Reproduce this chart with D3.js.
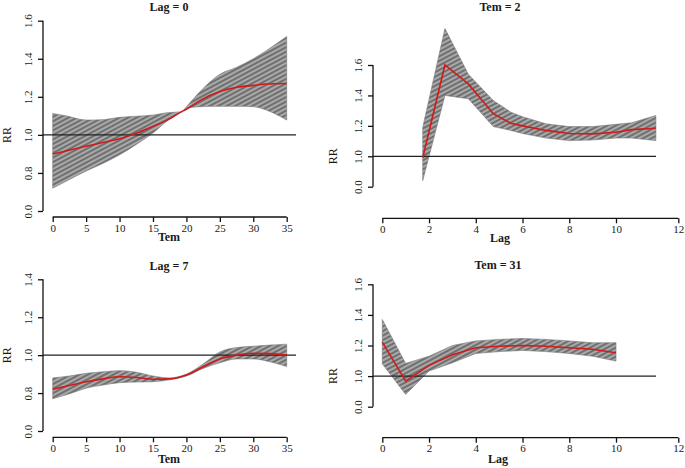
<!DOCTYPE html>
<html><head><meta charset="utf-8">
<script src="https://cdn.jsdelivr.net/npm/d3@7"></script>
<style>body{margin:0;background:#fff}svg{display:block}svg text{font-family:"Liberation Serif","Times New Roman","DejaVu Serif",serif !important;fill:#1a1a1a}</style>
</head><body><svg id="c" width="685" height="468"></svg>
<script>
// ---- Data ----
// Panel 1: Lag = 0 (x = Tem)
const p1Tem   = [0, 2, 5, 7.5, 10, 12.5, 15, 17, 19.3, 20, 22, 25, 27.5, 30, 32, 35];
const p1Fit   = [0.90, 0.915, 0.94, 0.96, 0.98, 1.008, 1.045, 1.075, 1.122, 1.135, 1.18, 1.228, 1.25, 1.26, 1.267, 1.27];
const p1Upper = [1.113, 1.10, 1.078, 1.08, 1.092, 1.098, 1.104, 1.116, 1.122, 1.148, 1.226, 1.318, 1.355, 1.40, 1.444, 1.517];
const p1Lower = [0.72, 0.756, 0.81, 0.85, 0.895, 0.95, 1.01, 1.07, 1.122, 1.139, 1.148, 1.15, 1.15, 1.148, 1.13, 1.078];
// Panel 2: Tem = 2 (x = Lag)
const p2Lag   = [1.73, 2.68, 3.68, 4.75, 5.5, 6, 7, 8, 9, 10, 10.5, 11.28];
const p2Fit   = [0.99, 1.60, 1.476, 1.28, 1.217, 1.2, 1.17, 1.15, 1.147, 1.158, 1.175, 1.184];
const p2Upper = [1.19, 1.84, 1.54, 1.366, 1.29, 1.26, 1.213, 1.195, 1.195, 1.21, 1.22, 1.268];
const p2Lower = [0.84, 1.40, 1.378, 1.195, 1.17, 1.15, 1.12, 1.103, 1.107, 1.12, 1.12, 1.103];
// Panel 3: Lag = 7 (x = Tem)
const p3Tem   = [0, 2.5, 5, 7.5, 10, 12.5, 15, 17.5, 20, 22.5, 25, 27.5, 30, 32.5, 35];
const p3Fit   = [0.82, 0.84, 0.86, 0.875, 0.886, 0.882, 0.873, 0.875, 0.895, 0.94, 0.98, 1.0, 1.01, 1.008, 1.0];
const p3Upper = [0.88, 0.89, 0.904, 0.912, 0.918, 0.91, 0.89, 0.88, 0.90, 0.953, 1.017, 1.04, 1.047, 1.053, 1.058];
const p3Lower = [0.77, 0.796, 0.826, 0.842, 0.855, 0.858, 0.86, 0.87, 0.89, 0.93, 0.96, 0.98, 0.98, 0.965, 0.94];
// Panel 4: Tem = 31 (x = Lag)
const p4Lag   = [0, 1, 2, 3, 4, 5, 6, 7, 8, 9, 10];
const p4Fit   = [1.222, 0.967, 1.07, 1.14, 1.185, 1.195, 1.2, 1.195, 1.185, 1.175, 1.153];
const p4Upper = [1.37, 1.083, 1.13, 1.2, 1.23, 1.24, 1.246, 1.24, 1.23, 1.218, 1.218];
const p4Lower = [1.08, 0.88, 1.033, 1.087, 1.148, 1.16, 1.168, 1.16, 1.148, 1.13, 1.098];

// Tick values and labels
const temTicks = [0, 5, 10, 15, 20, 25, 30, 35];
const lagTicks = [0, 2, 4, 6, 8, 10, 12];
const p1YTicks = [0.6, 0.8, 1.0, 1.2, 1.4, 1.6];
const p1YLabels = ["0.0", "0.8", "1.0", "1.2", "1.4", "1.6"];
const p3YTicks = [0.6, 0.8, 1.0, 1.2, 1.4];
const p3YLabels = ["0.0", "0.8", "1.0", "1.2", "1.4"];
const lagYTicks = [0.8, 1.0, 1.2, 1.4, 1.6];
const lagYLabels = ["0.0", "1.0", "1.2", "1.4", "1.6"];
const titles = ["Lag = 0", "Tem = 2", "Lag = 7", "Tem = 31"];
const xTitles = ["Tem", "Lag", "Tem", "Lag"];

const svg = d3.select("#c");
const defs = svg.append("defs");
const pat = defs.append("pattern").attr("id","hatch").attr("patternUnits","userSpaceOnUse")
  .attr("width",4).attr("height",4).attr("patternTransform","rotate(-28)");
pat.append("rect").attr("width",4).attr("height",4).attr("fill","#707070");
pat.append("line").attr("x1",0).attr("y1",2).attr("x2",4).attr("y2",2).attr("stroke","#c9c9c9").attr("stroke-width",1.3);

const FONT = '"Liberation Serif","Times New Roman","DejaVu Serif",serif';

function panel(o){
  const g = svg.append("g");
  const x = o.x, y = o.y;
  const data = o.xs.map((v,i)=>({x:v, f:o.fit[i], u:o.up[i], l:o.lo[i]}));
  const area = d3.area().x(d=>x(d.x)).y0(d=>y(d.l)).y1(d=>y(d.u)).curve(o.curve);
  g.append("path").datum(data).attr("d",area).attr("fill","url(#hatch)").attr("stroke","#777").attr("stroke-width",0.6);
  // reference line at RR = 1
  g.append("line").attr("x1",o.refX0).attr("x2",o.refX1).attr("y1",y(1)).attr("y2",y(1))
    .attr("stroke","#222").attr("stroke-width",1.3);
  const line = d3.line().x(d=>x(d.x)).y(d=>y(d.f)).curve(o.curve);
  g.append("path").datum(data).attr("d",line).attr("fill","none").attr("stroke","#d11a1a").attr("stroke-width",1.6);
  // x axis
  const xa = d3.axisBottom(x).tickValues(o.xTicks).tickSize(5).tickPadding(2).tickFormat(d3.format("d"));
  const gx = g.append("g").attr("transform",`translate(0,${o.xAxisY})`).call(xa).attr("font-family",FONT);
  gx.select(".domain").attr("d",`M${x(o.xTicks[0])},0H${x(o.xTicks[o.xTicks.length-1])}`).attr("stroke","#111").attr("stroke-width",1.3);
  gx.selectAll(".tick line").attr("stroke","#111").attr("stroke-width",1.3);
  gx.selectAll("text").style("font-size","11px").style("font-family",FONT);
  // y axis
  const ya = d3.axisLeft(y).tickValues(o.yTicks).tickSize(5).tickPadding(3).tickFormat((d,i)=>o.yLabels[i]);
  const gy = g.append("g").attr("transform",`translate(${o.yAxisX},0)`).call(ya).attr("font-family",FONT);
  gy.select(".domain").attr("d",`M0,${y(o.yTicks[0])}V${y(o.yTicks[o.yTicks.length-1])}`).attr("stroke","#111").attr("stroke-width",1.3);
  gy.selectAll(".tick line").attr("stroke","#111").attr("stroke-width",1.3);
  gy.selectAll(".tick text").style("font-size","11px").style("font-family",FONT)
    .attr("text-anchor","middle").attr("dy",null).attr("x",null)
    .attr("transform","translate(-14,0) rotate(-90)").attr("dominant-baseline","middle");
  // titles
  g.append("text").attr("x",o.titleX).attr("y",o.titleY).attr("text-anchor","middle")
    .style("font-size","12px").style("font-weight","bold").style("font-family",FONT).text(o.title);
  g.append("text").attr("x",o.titleX).attr("y",o.xlabY).attr("text-anchor","middle")
    .style("font-size","12px").style("font-weight","bold").style("font-family",FONT).text(o.xTitle);
  g.append("text").attr("transform",`translate(${o.rrX},${y(1)}) rotate(-90)`).attr("text-anchor","middle")
    .attr("dominant-baseline","middle").style("font-size","12px").style("font-family",FONT).text("RR");
}

const temX = () => d3.scaleLinear().domain([0,35]).range([52.7,286.7]);
const lagX = () => d3.scaleLinear().domain([0,10,12]).range([382.3,616,678.3]);

panel({xs:p1Tem, fit:p1Fit, up:p1Upper, lo:p1Lower, curve:d3.curveMonotoneX,
  x:temX(), y:d3.scaleLinear().domain([0.6,1.6]).range([211,20.7]),
  xTicks:temTicks, yTicks:p1YTicks, yLabels:p1YLabels, xAxisY:217, yAxisX:43,
  refX0:43, refX1:296, title:titles[0], xTitle:xTitles[0], titleX:169, titleY:11, xlabY:241, rrX:8});
panel({xs:p2Lag, fit:p2Fit, up:p2Upper, lo:p2Lower, curve:d3.curveLinear,
  x:lagX(), y:d3.scaleLinear().domain([0.8,1.6]).range([186.7,65]),
  xTicks:lagTicks, yTicks:lagYTicks, yLabels:lagYLabels, xAxisY:218.3, yAxisX:373,
  refX0:373, refX1:656, title:titles[1], xTitle:xTitles[1], titleX:500, titleY:11, xlabY:242, rrX:334});
panel({xs:p3Tem, fit:p3Fit, up:p3Upper, lo:p3Lower, curve:d3.curveMonotoneX,
  x:temX(), y:d3.scaleLinear().domain([0.6,1.4]).range([431,279.3]),
  xTicks:temTicks, yTicks:p3YTicks, yLabels:p3YLabels, xAxisY:437.3, yAxisX:43,
  refX0:43, refX1:296, title:titles[2], xTitle:xTitles[2], titleX:169, titleY:270, xlabY:463, rrX:8});
panel({xs:p4Lag, fit:p4Fit, up:p4Upper, lo:p4Lower, curve:d3.curveLinear,
  x:lagX(), y:d3.scaleLinear().domain([0.8,1.6]).range([406.7,284.3]),
  xTicks:lagTicks, yTicks:lagYTicks, yLabels:lagYLabels, xAxisY:437.7, yAxisX:373,
  refX0:373, refX1:656, title:titles[3], xTitle:xTitles[3], titleX:498, titleY:269, xlabY:463, rrX:334});
</script></body></html>
